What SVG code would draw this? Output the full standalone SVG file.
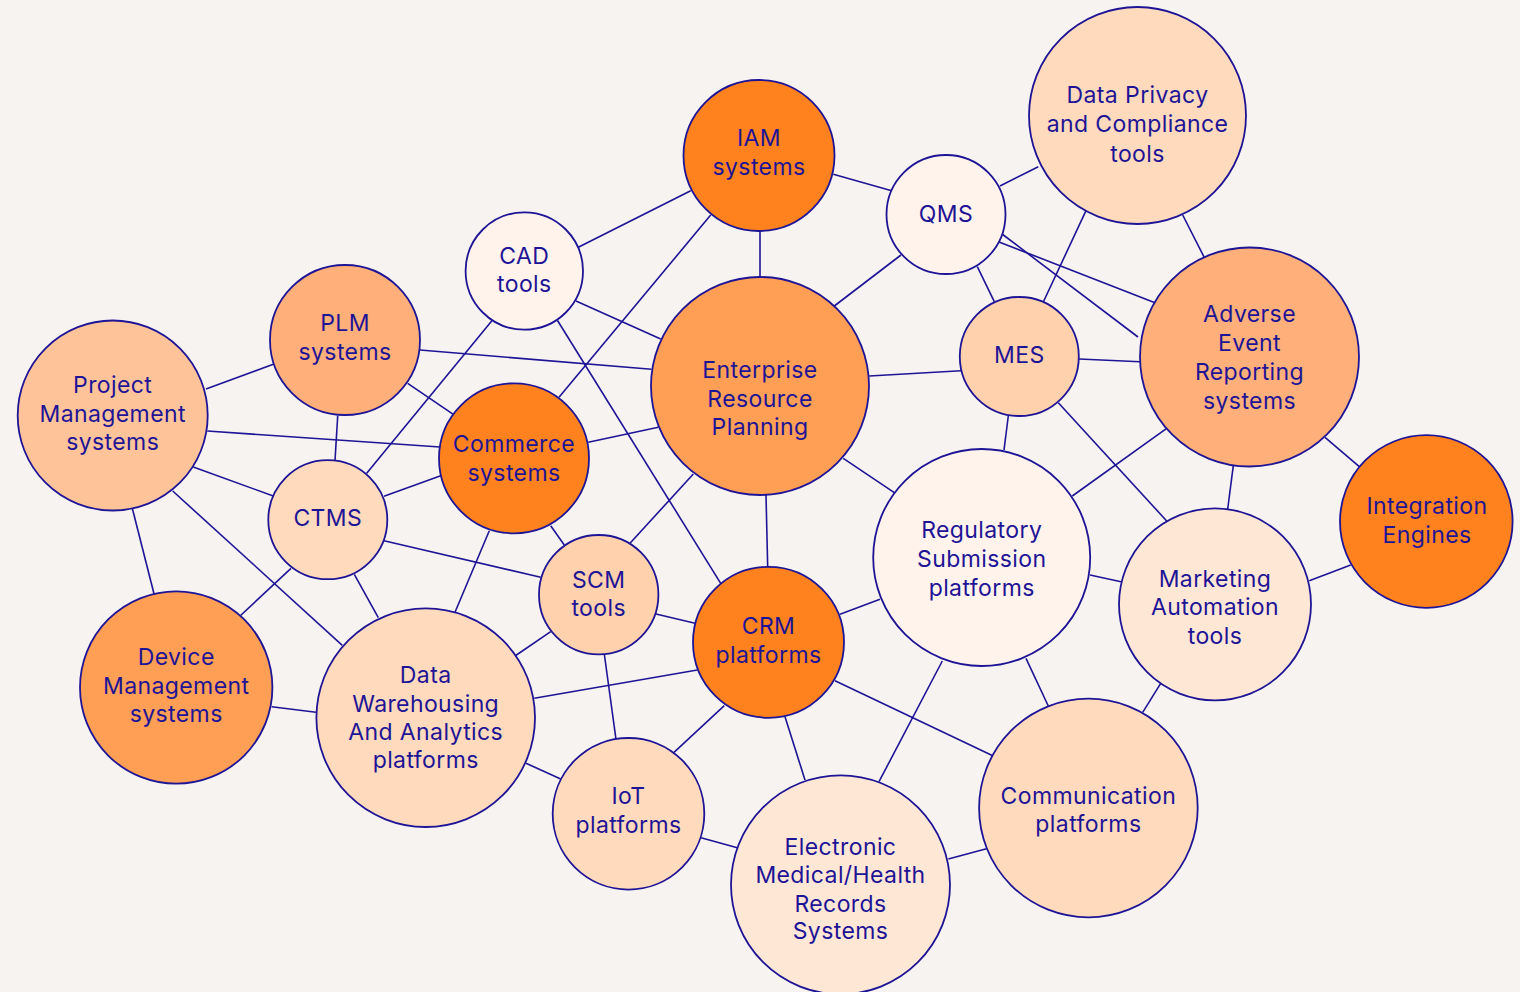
<svg xmlns="http://www.w3.org/2000/svg" width="1520" height="992" viewBox="0 0 1520 992">
<style>
.bg{fill:#F7F3F0}
.edges line{stroke:#1E1496;stroke-width:1.6;fill:none}
.node circle{stroke:#1E1496;stroke-width:1.8}
.node text{font-family:Inter,"Liberation Sans",sans-serif;font-size:23px;fill:#1E1496;text-anchor:middle;letter-spacing:0.4px}
.c1{fill:#FF821E}
.c2{fill:#FF9E55}
.c3{fill:#FFAF7A}
.c4{fill:#FFC39A}
.c5{fill:#FFD1AD}
.c6{fill:#FFDABD}
.c7{fill:#FFE7D6}
.c8{fill:#FFF3EB}
</style>
<rect class="bg" x="0" y="0" width="1520" height="992"/>
<g id="connectors" class="edges">
<line x1="578.3" y1="247.3" x2="690.7" y2="190.7"/>
<line x1="710.7" y1="215" x2="559" y2="397.3"/>
<line x1="760" y1="231" x2="760" y2="278"/>
<line x1="833.3" y1="174.3" x2="891.7" y2="190.7"/>
<line x1="1000" y1="186" x2="1038.3" y2="166.7"/>
<line x1="901" y1="255" x2="834.3" y2="306"/>
<line x1="977.3" y1="266.7" x2="994.3" y2="301.7"/>
<line x1="1002" y1="234" x2="1138" y2="337"/>
<line x1="999" y1="242" x2="1155" y2="302.7"/>
<line x1="576" y1="301" x2="660.7" y2="339"/>
<line x1="557.5" y1="320.5" x2="720.7" y2="583.3"/>
<line x1="492.5" y1="320" x2="366.7" y2="473.3"/>
<line x1="1086" y1="210.7" x2="1043.3" y2="302"/>
<line x1="1182.7" y1="215" x2="1204.7" y2="258.3"/>
<line x1="206" y1="389" x2="274" y2="364"/>
<line x1="420" y1="350" x2="651.5" y2="369.3"/>
<line x1="407.7" y1="383.3" x2="453.3" y2="414.3"/>
<line x1="337.7" y1="416" x2="335" y2="460.7"/>
<line x1="207.3" y1="431" x2="440" y2="447"/>
<line x1="193.3" y1="467" x2="273.3" y2="496"/>
<line x1="172.7" y1="491" x2="342.3" y2="645.3"/>
<line x1="132.3" y1="508.3" x2="154.3" y2="595"/>
<line x1="384" y1="496.3" x2="440.7" y2="475.7"/>
<line x1="291" y1="568.3" x2="240" y2="616"/>
<line x1="384" y1="540.7" x2="540.7" y2="577.3"/>
<line x1="354.3" y1="574.3" x2="378.3" y2="617.7"/>
<line x1="489.3" y1="530.7" x2="455" y2="612.3"/>
<line x1="588.3" y1="442.3" x2="658.3" y2="427.3"/>
<line x1="550.7" y1="525.7" x2="564.3" y2="545"/>
<line x1="693.3" y1="474" x2="630" y2="543.3"/>
<line x1="766" y1="494.7" x2="767.7" y2="567.7"/>
<line x1="869.3" y1="376" x2="961" y2="370.7"/>
<line x1="843.3" y1="458.3" x2="894.3" y2="492.7"/>
<line x1="1008.3" y1="416" x2="1004" y2="450"/>
<line x1="656" y1="614" x2="695" y2="623.3"/>
<line x1="880" y1="599.3" x2="840" y2="614.3"/>
<line x1="550.7" y1="631.7" x2="515" y2="656"/>
<line x1="1079" y1="359" x2="1140" y2="361.7"/>
<line x1="1058.3" y1="402.7" x2="1166.7" y2="521"/>
<line x1="1166.7" y1="428.3" x2="1072.3" y2="496"/>
<line x1="1233.3" y1="465.7" x2="1227.7" y2="509"/>
<line x1="1325" y1="437.3" x2="1359.3" y2="466.7"/>
<line x1="1350.7" y1="565" x2="1309.3" y2="580.7"/>
<line x1="1090" y1="575" x2="1121" y2="581.7"/>
<line x1="604.3" y1="654" x2="616" y2="739.3"/>
<line x1="697.3" y1="670" x2="534.3" y2="698.3"/>
<line x1="724.3" y1="705.7" x2="674" y2="752.3"/>
<line x1="785" y1="716.7" x2="805" y2="780"/>
<line x1="942.3" y1="661" x2="879" y2="781.7"/>
<line x1="835" y1="680.7" x2="993.3" y2="756"/>
<line x1="526" y1="763.3" x2="560.7" y2="779"/>
<line x1="701" y1="837.7" x2="737.3" y2="847.7"/>
<line x1="948.3" y1="859" x2="988.3" y2="848.3"/>
<line x1="1026" y1="658.3" x2="1048.3" y2="706"/>
<line x1="1160.7" y1="683.3" x2="1142.7" y2="712.3"/>
<line x1="271.7" y1="706.7" x2="316" y2="712.3"/>
</g>
<g id="iam" class="node"><circle class="c1" cx="759" cy="155.5" r="75.5"/><text x="759" y="146">IAM</text><text x="759" y="175">systems</text></g>
<g id="qms" class="node"><circle class="c8" cx="946" cy="214.5" r="59.5"/><text x="946" y="222">QMS</text></g>
<g id="cad" class="node"><circle class="c8" cx="524.3" cy="271" r="58.7"/><text x="524.3" y="264">CAD</text><text x="524.3" y="292">tools</text></g>
<g id="data-privacy" class="node"><circle class="c6" cx="1137.5" cy="115.5" r="108.5"/><text x="1137.5" y="103">Data Privacy</text><text x="1137.5" y="132">and Compliance</text><text x="1137.5" y="161.5">tools</text></g>
<g id="plm" class="node"><circle class="c3" cx="345" cy="340" r="75"/><text x="345" y="331">PLM</text><text x="345" y="360">systems</text></g>
<g id="project-management" class="node"><circle class="c4" cx="112.7" cy="415.5" r="95"/><text x="112.7" y="392.5">Project</text><text x="112.7" y="421.5">Management</text><text x="112.7" y="450">systems</text></g>
<g id="erp" class="node"><circle class="c2" cx="760" cy="386" r="109"/><text x="760" y="377.5">Enterprise</text><text x="760" y="406.5">Resource</text><text x="760" y="435">Planning</text></g>
<g id="mes" class="node"><circle class="c5" cx="1019.3" cy="356.5" r="59.5"/><text x="1019.3" y="362.5">MES</text></g>
<g id="adverse-event" class="node"><circle class="c3" cx="1249.5" cy="357" r="109.5"/><text x="1249.5" y="322">Adverse</text><text x="1249.5" y="351">Event</text><text x="1249.5" y="380">Reporting</text><text x="1249.5" y="408.5">systems</text></g>
<g id="commerce" class="node"><circle class="c1" cx="514" cy="458.3" r="75"/><text x="514" y="452">Commerce</text><text x="514" y="480.5">systems</text></g>
<g id="ctms" class="node"><circle class="c6" cx="327.8" cy="519.7" r="59.5"/><text x="327.8" y="526">CTMS</text></g>
<g id="integration" class="node"><circle class="c1" cx="1426.3" cy="521.5" r="86.3"/><text x="1427" y="514">Integration</text><text x="1427" y="543">Engines</text></g>
<g id="regulatory" class="node"><circle class="c8" cx="981.7" cy="557.5" r="108.5"/><text x="981.7" y="537.5">Regulatory</text><text x="981.7" y="566.5">Submission</text><text x="981.7" y="595.5">platforms</text></g>
<g id="marketing" class="node"><circle class="c7" cx="1215" cy="604.3" r="96"/><text x="1215" y="586.5">Marketing</text><text x="1215" y="615">Automation</text><text x="1215" y="643.5">tools</text></g>
<g id="scm" class="node"><circle class="c5" cx="598.7" cy="594.7" r="59.7"/><text x="598.7" y="587.5">SCM</text><text x="598.7" y="615.7">tools</text></g>
<g id="crm" class="node"><circle class="c1" cx="768.5" cy="642.3" r="75.5"/><text x="768.5" y="633.5">CRM</text><text x="768.5" y="662.5">platforms</text></g>
<g id="device-management" class="node"><circle class="c2" cx="176.2" cy="687.5" r="96.2"/><text x="176.2" y="665">Device</text><text x="176.2" y="694">Management</text><text x="176.2" y="722">systems</text></g>
<g id="data-warehousing" class="node"><circle class="c6" cx="425.7" cy="717.7" r="109.3"/><text x="425.7" y="683">Data</text><text x="425.7" y="711.5">Warehousing</text><text x="425.7" y="740">And Analytics</text><text x="425.7" y="768">platforms</text></g>
<g id="iot" class="node"><circle class="c6" cx="628.5" cy="813.8" r="75.8"/><text x="628.5" y="804">IoT</text><text x="628.5" y="833">platforms</text></g>
<g id="emr" class="node"><circle class="c7" cx="840.5" cy="884.8" r="109.5"/><text x="840.5" y="854.5">Electronic</text><text x="840.5" y="883">Medical/Health</text><text x="840.5" y="911.5">Records</text><text x="840.5" y="939">Systems</text></g>
<g id="communication" class="node"><circle class="c6" cx="1088.4" cy="808" r="109.3"/><text x="1088.4" y="803.5">Communication</text><text x="1088.4" y="832">platforms</text></g>
</svg>
